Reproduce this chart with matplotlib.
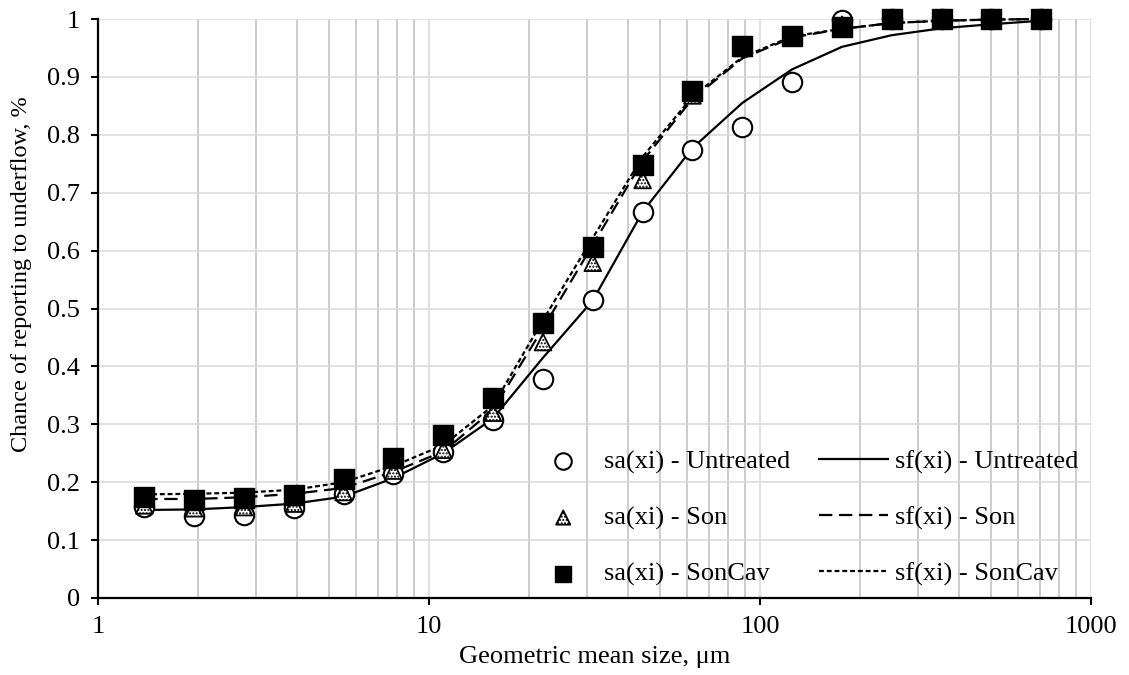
import matplotlib
matplotlib.use("Agg")
import matplotlib.pyplot as plt
from matplotlib.ticker import LogLocator, FixedLocator, NullFormatter, FuncFormatter

plt.rcParams['font.family'] = ['Liberation Serif', 'DejaVu Serif']
plt.rcParams['hatch.linewidth'] = 1.0

# Geometric mean sizes of the sieve fractions (um)
size_um = [1.38, 1.95, 2.76, 3.91, 5.52, 7.81, 11.05, 15.6, 22.1, 31.25,
           44.2, 62.5, 88.4, 125, 177, 250, 354, 500, 707]

# Measured partition values sa(xi)
sa_untreated = [0.157, 0.142, 0.143, 0.155, 0.180, 0.215, 0.252, 0.307, 0.378, 0.515,
                0.667, 0.774, 0.814, 0.891, 0.998, 1.0, 1.0, 1.0, 1.0]
sa_son = [0.160, 0.155, 0.157, 0.163, 0.183, 0.220, 0.256, 0.320, 0.442, 0.579,
          0.722, 0.868, 0.950, 0.970, 0.990, 1.0, 1.0, 1.0, 1.0]
sa_soncav = [0.175, 0.169, 0.172, 0.178, 0.205, 0.242, 0.281, 0.345, 0.475, 0.606,
             0.748, 0.876, 0.953, 0.971, 0.986, 1.0, 1.0, 1.0, 1.0]

# Fitted partition curves sf(xi)
sf_untreated = [0.152, 0.153, 0.157, 0.163, 0.175, 0.207, 0.250, 0.310, 0.415, 0.514,
                0.667, 0.777, 0.855, 0.913, 0.952, 0.972, 0.984, 0.991, 0.997]
sf_son = [0.171, 0.171, 0.174, 0.180, 0.190, 0.218, 0.253, 0.325, 0.466, 0.610,
          0.755, 0.862, 0.932, 0.968, 0.983, 0.993, 0.997, 0.999, 1.0]
sf_soncav = [0.179, 0.180, 0.182, 0.187, 0.200, 0.228, 0.264, 0.332, 0.480, 0.622,
             0.762, 0.866, 0.934, 0.970, 0.983, 0.993, 0.997, 0.999, 1.0]

FS = 19
W, H = 1129, 675
fig = plt.figure(figsize=(W / 100, H / 100), dpi=100)
ax = fig.add_axes([98 / W, 1 - 598 / H, (1091 - 98) / W, (598 - 19) / H])

ax.set_xscale('log')
ax.set_xlim(1, 1000)
ax.set_ylim(0, 1)

# ticks and grid
ax.xaxis.set_major_locator(FixedLocator([1, 10, 100, 1000]))
ax.xaxis.set_minor_locator(LogLocator(base=10, subs=range(2, 10)))
ax.xaxis.set_minor_formatter(NullFormatter())
ax.xaxis.set_major_formatter(FuncFormatter(lambda v, p: f"{v:g}"))
ax.yaxis.set_major_locator(FixedLocator([i / 10 for i in range(11)]))
ax.yaxis.set_major_formatter(FuncFormatter(lambda v, p: f"{v:g}"))

ax.grid(True, which='major', axis='both', color='#d9d9d9', lw=1.1, zorder=0)
ax.grid(True, which='minor', axis='x', color='#bfbfbf', lw=1.1, zorder=0)
ax.set_axisbelow(True)

for side in ('top', 'right'):
    ax.spines[side].set_visible(False)
for side in ('left', 'bottom'):
    ax.spines[side].set_linewidth(1.6)
    ax.spines[side].set_color('black')
    ax.spines[side].set_zorder(1)

ax.tick_params(axis='both', which='major', direction='out', length=5, width=1.5,
               labelsize=FS, color='black')
ax.tick_params(axis='x', which='major', pad=8)
ax.tick_params(axis='y', which='major', pad=8)
ax.tick_params(axis='x', which='minor', length=0)

# fitted curves
l1, = ax.plot(size_um, sf_untreated, color='black', lw=1.6, zorder=2,
              solid_joinstyle='miter', clip_on=False)
l2, = ax.plot(size_um, sf_son, color='black', lw=1.6, dashes=(6, 3), zorder=2, clip_on=False)
l3, = ax.plot(size_um, sf_soncav, color='black', lw=1.6, dashes=(2.2, 1.3), zorder=2, clip_on=False)

# measured points
m1 = ax.scatter(size_um, sa_untreated, s=14 ** 2, marker='o', facecolor='white',
                edgecolor='black', linewidths=1.5, zorder=3, clip_on=False)
m2 = ax.scatter(size_um, sa_son, s=12 ** 2, marker='^', facecolor='white',
                edgecolor='black', linewidths=1.3, hatch='.....', zorder=4, clip_on=False)
m3 = ax.scatter(size_um, sa_soncav, s=14 ** 2, marker='s', facecolor='black',
                edgecolor='black', linewidths=1.0, zorder=5, clip_on=False)

ax.set_xlabel('Geometric mean size, μm', fontsize=FS, labelpad=6)
ax.set_ylabel('Chance of reporting to underflow, %', fontsize=17.5, va='center')
ax.yaxis.set_label_coords(-(98 - 22) / (1091 - 98), 0.56)

handles = [m1, m2, m3, l1, l2, l3]
labels = ['sa(xi) - Untreated', 'sa(xi) - Son', 'sa(xi) - SonCav',
          'sf(xi) - Untreated', 'sf(xi) - Son', 'sf(xi) - SonCav']
leg = ax.legend(handles, labels, ncol=2, frameon=False, fontsize=FS,
                loc='lower right', bbox_to_anchor=(1078 / W, 1 - 586 / H),
                bbox_transform=fig.transFigure,
                handlelength=2.6, handletextpad=0.25, columnspacing=1.1,
                labelspacing=1.22, borderpad=0, borderaxespad=0,
                markerscale=0.85)

fig.savefig('out.png', dpi=100)
